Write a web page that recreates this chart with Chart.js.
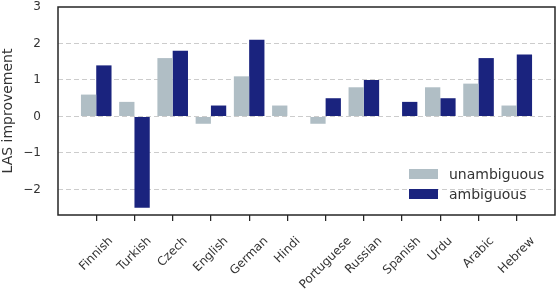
<!DOCTYPE html>
<html>
<head>
<meta charset="utf-8">
<script src="https://cdn.jsdelivr.net/npm/chart.js@4/dist/chart.umd.min.js"></script>
<style>
html, body { margin:0; padding:0; background:#fff; }
</style>
</head>
<body>
<canvas id="myChart" width="558" height="298"></canvas>
<script>
var languages = ['Finnish', 'Turkish', 'Czech', 'English', 'German', 'Hindi', 'Portuguese', 'Russian', 'Spanish', 'Urdu', 'Arabic', 'Hebrew'];
var unambiguous = [0.6, 0.4, 1.6, -0.2, 1.1, 0.3, -0.2, 0.8, 0, 0.8, 0.9, 0.3];
var ambiguous = [1.4, -2.5, 1.8, 0.3, 2.1, 0, 0.5, 1.0, 0.4, 0.5, 1.6, 1.7];
var yMin = -2.7;
var yMax = 3;

var textColor = '#333333';
var fontName = "'DejaVu Sans', sans-serif";

//empty slots at both ends give the extra space matplotlib leaves around the bars
var labels = [''].concat(languages, ['']);
function pad(arr){ return [null].concat(arr, [null]); }

//frame round the plot area + legend inside it (bottom right)
var framePlugin = {
  id: 'frame',
  afterDraw: function(chart){
    var ctx = chart.ctx;
    var a = chart.chartArea;
    ctx.save();
    ctx.strokeStyle = '#262626';
    ctx.lineWidth = 1.5;
    ctx.strokeRect(a.left, a.top, a.right - a.left, a.bottom - a.top);

    var ds = chart.data.datasets;
    var x = a.right - 146;
    var y = a.bottom - 41;
    ctx.font = '14px ' + fontName;
    ctx.textBaseline = 'middle';
    ctx.textAlign = 'left';
    for (var i = 0; i < ds.length; i++){
      ctx.fillStyle = ds[i].backgroundColor;
      ctx.fillRect(x, y + i * 20 - 5, 29, 10);
      ctx.fillStyle = textColor;
      ctx.fillText(ds[i].label, x + 40, y + i * 20 + 1);
    }
    ctx.restore();
  }
};

//matplotlib centres rotated labels on the tick, chart.js right-aligns them
var labelShift = {
  id: 'labelShift',
  beforeDraw: function(chart){
    var scale = chart.scales.x;
    var items = scale.getLabelItems(chart.chartArea);
    var ctx = chart.ctx;
    items.forEach(function(item){
      if (item._shifted) return;
      ctx.font = item.font.string;
      var w = ctx.measureText(item.label).width;
      item.options.translation[0] += w * 0.354;
      item._shifted = true;
    });
  }
};

var ctx = document.getElementById('myChart').getContext('2d');
var chart = new Chart(ctx, {
  type: 'bar',
  data: {
    labels: labels,
    datasets: [{
      label: 'unambiguous',
      backgroundColor: '#b0bec5',
      data: pad(unambiguous)
    }, {
      label: 'ambiguous',
      backgroundColor: '#1a237e',
      data: pad(ambiguous)
    }]
  },
  plugins: [framePlugin, labelShift],
  options: {
    responsive: false,
    animation: false,
    devicePixelRatio: 1,
    layout: { padding: { top: 7, right: 3, left: 0, bottom: 0 } },
    datasets: { bar: { categoryPercentage: 0.8, barPercentage: 1.0 } },
    plugins: { legend: { display: false }, tooltip: { enabled: false } },
    scales: {
      x: {
        offset: false,
        grid: {
          offset: false,
          drawOnChartArea: false,
          drawTicks: true,
          tickLength: 6,
          lineWidth: 1.25,
          color: function(c){
            return (c.index === 0 || c.index === labels.length - 1) ? 'rgba(0,0,0,0)' : '#262626';
          }
        },
        border: { display: false },
        ticks: {
          autoSkip: false,
          minRotation: 45,
          maxRotation: 45,
          padding: 13,
          color: textColor,
          font: { family: fontName, size: 12 }
        },
        afterFit: function(scale){
          scale.height = 83;
          scale.paddingLeft = 0;
          scale.paddingRight = 0;
        }
      },
      y: {
        min: yMin,
        max: yMax,
        grid: {
          drawTicks: false,
          lineWidth: 1,
          color: function(c){
            return c.tick && c.tick.value === yMax ? 'rgba(0,0,0,0)' : '#cccccc';
          }
        },
        border: { display: false, dash: [5, 3] },
        ticks: {
          stepSize: 1,
          includeBounds: false,
          padding: 17,
          color: textColor,
          font: { family: fontName, size: 12 },
          callback: function(v){ return String(v).replace('-', '\u2212'); }
        },
        title: {
          display: true,
          text: 'LAS improvement',
          color: textColor,
          padding: 0,
          font: { family: fontName, size: 14 }
        },
        afterFit: function(scale){
          scale.width = 58;
          scale.paddingTop = 0;
          scale.paddingBottom = 0;
        }
      }
    }
  }
});
</script>
</body>
</html>
